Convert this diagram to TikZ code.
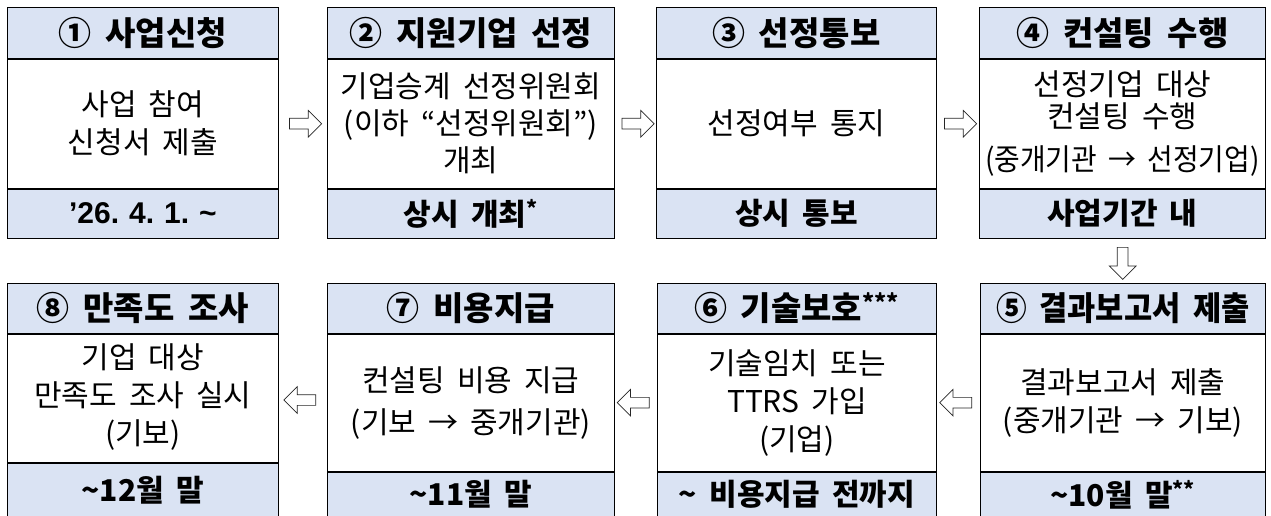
\documentclass[tikz,border=0pt]{standalone}
\usepackage{fontspec}
\setmainfont{Noto Sans CJK KR}[WordSpace=1.8]
\newfontfamily\latinfont{Liberation Sans}
\usetikzlibrary{shapes.arrows,calc}
\definecolor{hdrblue}{RGB}{218,227,243}
\tikzset{
 part/.style={draw=black, line width=0.8pt, anchor=north west, inner sep=0pt, align=center, text=black},
 hdr/.style={part, fill=hdrblue, font=\fontsize{33}{38}\selectfont\bfseries},
 ftr/.style={part, fill=hdrblue, font=\fontsize{30}{34}\selectfont\bfseries},
 bdy/.style={part, fill=white, font=\fontsize{30}{38}\selectfont},
 barrow/.style={single arrow, draw=black!85, fill=white, line width=0.7pt, inner sep=5pt, minimum height=32pt, single arrow head extend=8pt, single arrow head indent=0pt},
}
\newcommand\tl{\textasciitilde}
\begin{document}
\begin{tikzpicture}[x=1pt,y=-1pt]
\useasboundingbox (0,0) rectangle (1271,516);
% top row
\node[hdr, minimum width=271pt, minimum height=51pt] (h1) at (7,7) {① 사업신청};
\node[bdy, minimum width=271pt, minimum height=129pt] (b1) at (h1.south west) {사업 참여\\신청서 제출};
\node[ftr, minimum width=271pt, minimum height=49pt] (f1) at (b1.south west) {\latinfont\bfseries ’26.\hspace{10pt}4.\hspace{10pt}1.\hspace{10pt}\tl};

\node[hdr, minimum width=287pt, minimum height=51pt] (h2) at (327,7) {② 지원기업 선정};
\node[bdy, minimum width=287pt, minimum height=129pt] (b2) at (h2.south west) {기업승계 선정위원회\\[-1pt](이하 “선정위원회”)\\[-1pt]개최};
\node[ftr, minimum width=287pt, minimum height=49pt] (f2) at (b2.south west) {상시 개최\textsuperscript{*}};

\node[hdr, minimum width=280pt, minimum height=51pt] (h3) at (656,7) {③ 선정통보};
\node[bdy, minimum width=280pt, minimum height=129pt] (b3) at (h3.south west) {선정여부 통지};
\node[ftr, minimum width=280pt, minimum height=49pt] (f3) at (b3.south west) {상시 통보};

\node[hdr, minimum width=286pt, minimum height=51pt] (h4) at (979,7) {④ 컨설팅 수행};
\node[bdy, minimum width=286pt, minimum height=129pt] (b4) at (h4.south west) {선정기업 대상\\[-6pt]컨설팅 수행\\[5pt]\scalebox{0.93}[1]{(중개기관 → 선정기업)}};
\node[ftr, minimum width=286pt, minimum height=49pt] (f4) at (b4.south west) {사업기간 내};

% bottom row
\node[hdr, minimum width=271pt, minimum height=50pt] (h8) at (7,283) {⑧ 만족도 조사};
\node[bdy, minimum width=271pt, minimum height=128pt] (b8) at (h8.south west) {기업 대상\\만족도 조사 실시\\(기보)\\[-30pt]\mbox{}};
\node[ftr, minimum width=271pt, minimum height=54pt] (f8) at (b8.south west) {\tl12월 말};

\node[hdr, minimum width=287pt, minimum height=50pt] (h7) at (327,283) {⑦ 비용지급};
\node[bdy, minimum width=287pt, minimum height=137pt] (b7) at (h7.south west) {컨설팅 비용 지급\\[4pt](기보 → 중개기관)};
\node[ftr, minimum width=287pt, minimum height=45pt] (f7) at (b7.south west) {\tl11월 말};

\node[hdr, minimum width=279pt, minimum height=50pt] (h6) at (657,283) {⑥ 기술보호\textsuperscript{***}};
\node[bdy, minimum width=279pt, minimum height=137pt] (b6) at (h6.south west) {기술임치 또는\\TTRS 가입\\(기업)};
\node[ftr, minimum width=279pt, minimum height=45pt] (f6) at (b6.south west) {\tl{} 비용지급 전까지};

\node[hdr, minimum width=285pt, minimum height=50pt] (h5) at (980,283) {\scalebox{0.93}[1]{⑤ 결과보고서 제출}};
\node[bdy, minimum width=285pt, minimum height=137pt] (b5) at (h5.south west) {결과보고서 제출\\(중개기관 → 기보)};
\node[ftr, minimum width=285pt, minimum height=45pt] (f5) at (b5.south west) {\tl10월 말\textsuperscript{**}};

% arrows
\node[barrow] (a12) at ($(b1.east)!0.5!(b2.west)$) {};
\node[barrow] (a23) at ($(b2.east)!0.5!(b3.west)$) {};
\node[barrow] (a34) at ($(b3.east)!0.5!(b4.west)$) {};
\node[barrow, rotate=-90] (a45) at ($(f4.south)!0.5!(h5.north)$) {};
\node[barrow, rotate=180] (a56) at ($(b5.west)!0.5!(b6.east)$) {};
\node[barrow, rotate=180] (a67) at ($(b6.west)!0.5!(b7.east)$) {};
\node[barrow, rotate=180] (a78) at (302.5,400) {};
\end{tikzpicture}
\end{document}
